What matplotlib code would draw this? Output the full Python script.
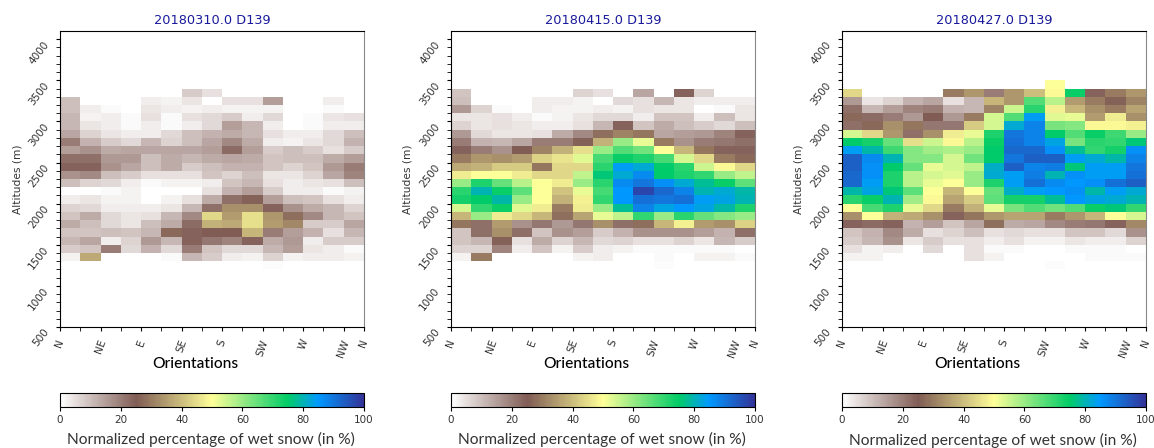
import numpy as np
import matplotlib
matplotlib.use("Agg")
import matplotlib.pyplot as plt

titles = ["20180310.0 D139", "20180415.0 D139", "20180427.0 D139"]
orient_pos = [0, 2, 4, 6, 8, 10, 12, 14, 15]
orient_labels = ["N", "NE", "E", "SE", "S", "SW", "W", "NW", "N"]
alt_edges = list(range(1200, 3600, 100))

# rows go from the highest band (3400-3500 m) down to 1200-1300 m
wet_0310 = [
    [0, 0, 0, 0, 0, 0, 0, 0, 0, 0, 0, 0, 0, 0, 0],
    [0, 0, 0, 0, 0, 0, 8, 5, 0, 0, 0, 0, 0, 0, 0],
    [10, 0, 0, 0, 3, 2, 4, 0, 5, 5, 15, 0, 0, 3, 0],
    [10, 3, 1, 0, 4, 3, 2, 3, 2, 2, 2, 0, 0, 1, 0],
    [11, 2, 3, 1, 5, 1, 5, 6, 8, 3, 6, 0, 1, 4, 5],
    [11, 4, 3, 1, 3, 1, 3, 6, 15, 11, 3, 0, 1, 3, 3],
    [14, 7, 4, 3, 3, 6, 10, 12, 13, 11, 5, 3, 3, 6, 10],
    [20, 12, 8, 6, 11, 7, 10, 14, 18, 13, 3, 2, 4, 6, 12],
    [15, 17, 13, 14, 14, 14, 14, 15, 23, 15, 8, 10, 8, 5, 8],
    [22, 22, 16, 16, 10, 13, 11, 13, 14, 13, 9, 10, 10, 13, 15],
    [24, 24, 17, 14, 10, 13, 8, 10, 12, 12, 9, 7, 9, 16, 20],
    [17, 18, 10, 8, 5, 5, 5, 9, 7, 10, 4, 4, 7, 14, 19],
    [10, 7, 6, 3, 1, 2, 2, 3, 9, 11, 5, 3, 4, 5, 10],
    [0, 0, 1, 2, 0, 0, 0, 5, 12, 15, 8, 3, 3, 1, 2],
    [3, 4, 2, 2, 0, 2, 5, 13, 22, 26, 15, 10, 9, 5, 3],
    [7, 6, 3, 3, 3, 4, 11, 22, 33, 33, 24, 17, 13, 11, 7],
    [9, 13, 6, 4, 5, 11, 18, 44, 35, 45, 34, 28, 18, 11, 9],
    [13, 10, 6, 4, 10, 13, 23, 38, 37, 45, 35, 32, 8, 8, 14],
    [9, 9, 10, 9, 11, 27, 24, 25, 25, 39, 20, 15, 12, 5, 11],
    [11, 14, 3, 7, 16, 11, 24, 21, 19, 24, 13, 16, 3, 8, 8],
    [8, 9, 20, 6, 12, 6, 20, 9, 6, 6, 11, 15, 4, 3, 1],
    [2, 37, 0, 0, 0, 1, 11, 8, 3, 2, 7, 2, 3, 3, 2],
    [0, 0, 0, 0, 0, 0, 0, 0, 0, 0, 0.5, 0, 0, 0, 0],
]

wet_0415 = [
    [0, 0, 0, 0, 0, 0, 0, 0, 0, 0, 0, 0, 0, 0, 0],
    [9, 0, 0, 0, 0, 0, 7, 5, 0, 14, 0, 24, 7, 0, 0],
    [10, 0, 0, 0, 3, 3, 2, 0, 6, 5, 11, 4, 3, 3, 3],
    [16, 7, 1, 0, 3, 2, 2, 3, 2, 5, 4, 4, 0, 1, 4],
    [4, 4, 5, 3, 1, 2, 4, 6, 6, 3, 9, 9, 3, 10, 4],
    [7, 4, 5, 4, 3, 3, 5, 11, 24, 9, 13, 10, 8, 6, 10],
    [16, 6, 4, 4, 5, 13, 18, 28, 31, 29, 14, 15, 16, 19, 24],
    [20, 12, 11, 14, 20, 20, 26, 38, 60, 52, 30, 17, 20, 21, 22],
    [24, 20, 17, 25, 31, 38, 45, 60, 67, 64, 50, 39, 29, 24, 24],
    [30, 34, 33, 35, 43, 46, 53, 68, 74, 72, 68, 54, 44, 30, 27],
    [37, 38, 42, 42, 29, 44, 44, 71, 84, 82, 75, 71, 55, 49, 44],
    [47, 50, 50, 47, 44, 44, 56, 76, 82, 87, 75, 72, 70, 60, 56],
    [60, 72, 65, 57, 50, 47, 60, 71, 87, 90, 86, 82, 78, 74, 66],
    [71, 80, 74, 66, 50, 41, 52, 68, 85, 97, 92, 88, 80, 82, 79],
    [73, 75, 79, 60, 50, 38, 48, 70, 85, 91, 90, 91, 84, 83, 80],
    [54, 70, 74, 53, 47, 30, 47, 60, 78, 88, 83, 85, 83, 79, 72],
    [39, 60, 47, 44, 39, 28, 36, 52, 56, 70, 60, 71, 65, 62, 60],
    [29, 22, 35, 17, 21, 16, 21, 33, 22, 28, 39, 48, 35, 33, 43],
    [9, 22, 33, 22, 9, 17, 15, 8, 12, 17, 17, 17, 15, 12, 22],
    [9, 11, 26, 5, 13, 7, 11, 6, 7, 5, 5, 7, 4, 11, 8],
    [7, 7, 19, 3, 9, 2, 8, 3, 2, 1, 1, 1, 1, 1, 0],
    [2, 30, 0, 0, 0, 0, 2, 3, 0, 0, 1, 0, 2, 2, 1],
    [0, 0, 0, 0, 0, 0, 0, 0, 0, 0, 0.5, 0, 0, 0, 0],
]

wet_0427 = [
    [0, 0, 0, 0, 0, 0, 0, 0, 0, 0, 50, 0, 0, 0, 0],
    [44, 0, 0, 0, 0, 30, 34, 20, 34, 40, 49, 74, 24, 30, 34],
    [16, 4, 7, 12, 14, 5, 11, 39, 34, 67, 57, 35, 30, 26, 31],
    [22, 11, 15, 19, 20, 12, 11, 31, 55, 71, 48, 39, 33, 30, 36],
    [27, 23, 20, 16, 25, 16, 30, 54, 67, 84, 53, 52, 35, 47, 33],
    [22, 27, 33, 29, 21, 21, 42, 54, 82, 88, 63, 62, 49, 49, 48],
    [54, 44, 34, 22, 33, 47, 52, 72, 90, 88, 75, 67, 74, 69, 60],
    [75, 73, 65, 45, 55, 49, 57, 74, 91, 88, 83, 63, 71, 70, 76],
    [84, 79, 69, 62, 59, 58, 60, 75, 92, 92, 86, 78, 70, 73, 86],
    [93, 87, 80, 62, 62, 54, 64, 75, 90, 93, 93, 84, 82, 79, 88],
    [93, 86, 75, 65, 52, 54, 56, 81, 93, 88, 89, 76, 84, 84, 90],
    [92, 86, 72, 57, 54, 53, 60, 82, 84, 89, 80, 86, 84, 84, 91],
    [92, 84, 72, 57, 52, 50, 60, 72, 84, 91, 87, 85, 86, 91, 93],
    [79, 83, 76, 66, 50, 39, 50, 65, 81, 84, 85, 86, 79, 84, 82],
    [71, 74, 80, 59, 49, 36, 42, 66, 73, 73, 78, 85, 83, 82, 80],
    [50, 68, 72, 52, 44, 30, 38, 52, 63, 67, 64, 67, 74, 76, 70],
    [33, 50, 38, 37, 33, 24, 29, 34, 36, 36, 30, 34, 39, 50, 54],
    [24, 23, 24, 12, 15, 9, 14, 28, 13, 14, 18, 20, 21, 24, 32],
    [9, 12, 18, 13, 5, 7, 10, 5, 6, 5, 5, 9, 9, 6, 17],
    [8, 11, 17, 4, 8, 5, 5, 3, 5, 2, 2, 4, 3, 3, 7],
    [5, 2, 3, 0, 6, 0, 5, 1, 1, 0, 0, 1, 1, 1, 0],
    [2, 2, 0, 0, 0, 0, 5, 2, 0, 0, 0, 0, 1, 1, 1],
    [0, 0, 0, 0, 0, 0, 0, 0, 0, 0, 0.5, 0, 0, 0, 0],
]

W, H = 1154, 448
fig = plt.figure(figsize=(W / 100, H / 100), dpi=100)

lefts = [60, 451, 842]
cbar_pads = [5, 5, 6]


def px_axes(x0, y0, x1, y1):
    return fig.add_axes([x0 / W, 1 - y1 / H, (x1 - x0) / W, (y1 - y0) / H])


panels = [wet_0310, wet_0415, wet_0427]
for i, wet in enumerate(panels):
    x0 = lefts[i]
    ax = px_axes(x0, 31, x0 + 304, 327)
    vals = np.array(wet, dtype=float)[::-1]
    xedges = np.arange(16)
    yedges = np.array(alt_edges)
    mesh = ax.pcolormesh(xedges, yedges, vals, cmap="terrain_r", vmin=0, vmax=100)
    ax.set_xlim(0, 15)
    ax.set_ylim(500, 4100)
    ax.set_xticks(np.arange(16), minor=True)
    ax.set_xticks(orient_pos)
    ax.set_xticklabels(orient_labels, rotation=70, fontsize=7.5, color="#333333")
    ax.set_yticks(np.arange(500, 4001, 500))
    ax.set_yticks(np.arange(500, 4100, 100), minor=True)
    ax.tick_params(axis="y", labelrotation=52, labelsize=7.5, length=3, pad=3.5, labelcolor="#333333")
    ax.tick_params(axis="y", which="minor", length=3)
    ax.tick_params(axis="x", length=3, pad=5)
    ax.tick_params(axis="x", which="minor", length=3)
    for lab in ax.get_yticklabels():
        lab.set_va("top")
    ax.set_ylabel("Altitudes (m)", fontsize=7.7, color="#333333")
    ax.yaxis.set_label_coords(-38 / 304, 0.5)
    ax.set_xlabel("Orientations", fontsize=11.2, family="Lato", fontweight="medium", color="black")
    ax.xaxis.set_label_coords(0.446, -30 / 296)
    ax.set_title(titles[i], fontsize=9.3, color="#1a1a9c", pad=5)
    ax.spines["right"].set_color("#888888")
    for sp in ax.spines.values():
        sp.set_linewidth(0.8)

    cax = px_axes(x0, 392.5, x0 + 304, 406.5)
    cb = fig.colorbar(mesh, cax=cax, orientation="horizontal")
    cb.set_ticks([0, 20, 40, 60, 80, 100])
    cb.ax.tick_params(labelsize=7.5, length=3, pad=3, labelcolor="#333333")
    cb.set_label("Normalized percentage of wet snow (in %)", fontsize=11.2, family="Lato",
                 color="#333333", labelpad=cbar_pads[i], x=0.497)

fig.savefig("out.png", dpi=100)
